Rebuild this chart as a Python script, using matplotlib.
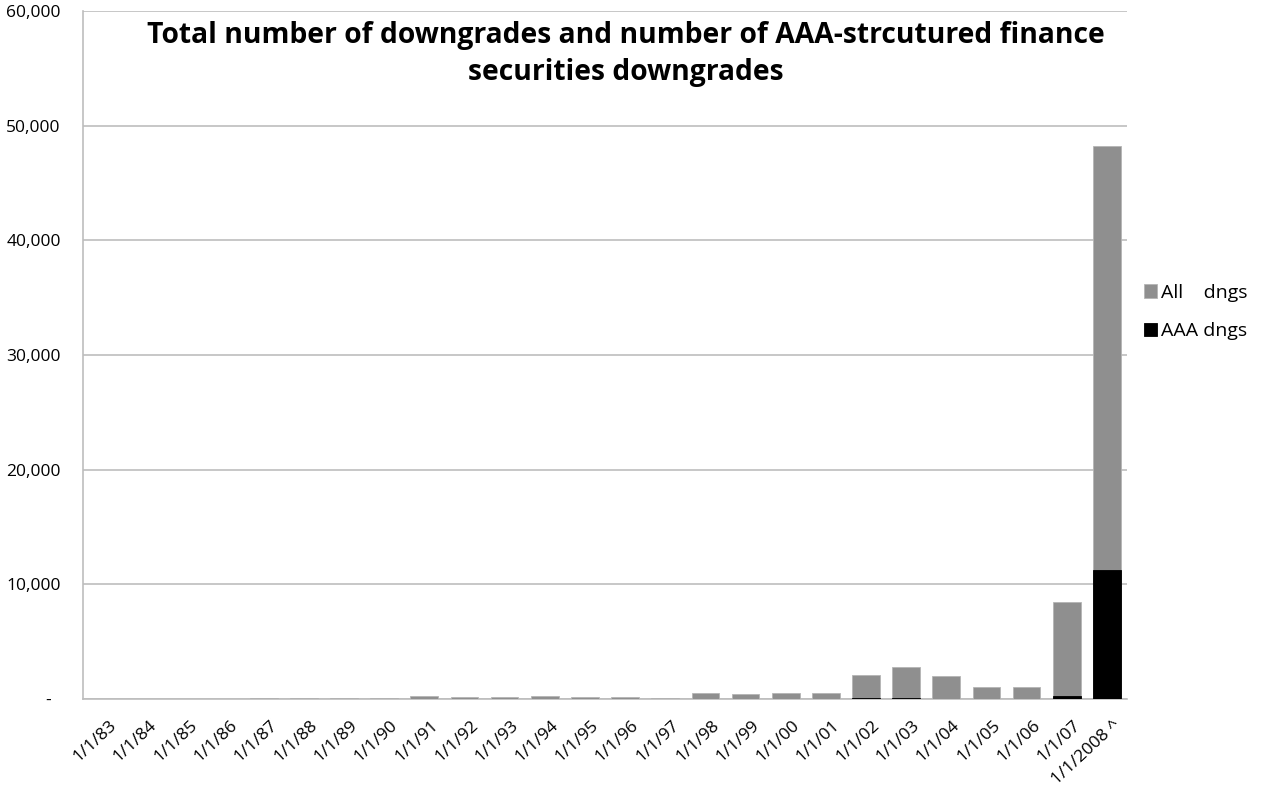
import matplotlib
matplotlib.use("Agg")
import matplotlib.pyplot as plt
from matplotlib.ticker import FuncFormatter, FixedLocator
from matplotlib.transforms import ScaledTranslation
import numpy as np

# Downgrade counts per year
years = ["1/1/83", "1/1/84", "1/1/85", "1/1/86", "1/1/87", "1/1/88", "1/1/89",
         "1/1/90", "1/1/91", "1/1/92", "1/1/93", "1/1/94", "1/1/95", "1/1/96",
         "1/1/97", "1/1/98", "1/1/99", "1/1/00", "1/1/01", "1/1/02", "1/1/03",
         "1/1/04", "1/1/05", "1/1/06", "1/1/07", "1/1/2008 ^"]
all_dngs = [0, 0, 0, 0, 90, 90, 70, 120, 260, 150, 200, 260, 175, 200,
            90, 520, 410, 500, 520, 2090, 2760, 1980, 1020, 1050, 8480, 48200]
aaa_dngs = [0, 0, 0, 0, 0, 0, 0, 0, 0, 0, 0, 0, 0, 0,
            0, 0, 0, 0, 0, 50, 60, 40, 0, 0, 260, 11250]

y_ticks = [0, 10000, 20000, 30000, 40000, 50000, 60000]
title = "Total number of downgrades and number of AAA-strcutured finance\nsecurities downgrades"

plt.rcParams["font.family"] = ["Open Sans", "DejaVu Sans"]

fig = plt.figure(figsize=(12.65, 7.91), dpi=100)
ax = fig.add_axes([83 / 1265, 1 - 699 / 791, (1127 - 83) / 1265, (699 - 11) / 791])

x = np.arange(len(years))
ax.bar(x, all_dngs, width=0.69, color="#8f8f8f", edgecolor="#b5b5b5",
       linewidth=0.6, label="All    dngs", zorder=3)
ax.bar(x, aaa_dngs, width=0.69, color="#000000", edgecolor="#000000",
       linewidth=0.6, label="AAA dngs", zorder=4)

ax.set_xlim(-0.5, len(years) - 0.5)
ax.set_ylim(0, 60000)
ax.yaxis.set_major_locator(FixedLocator(y_ticks))
ax.yaxis.set_major_formatter(FuncFormatter(lambda v, p: "-" if v == 0 else f"{int(v):,}"))
ax.grid(axis="y", color="#bdbdbd", linewidth=1.2, zorder=0)
ax.set_axisbelow(True)

ax.set_xticks(x)
ax.set_xticklabels(years, rotation=43, ha="right", rotation_mode="anchor", fontsize=12.5)
ax.tick_params(axis="x", length=0, pad=13)
ax.tick_params(axis="y", length=0, pad=16, labelsize=12.5)
shift = ScaledTranslation(6 / 100, 0, fig.dpi_scale_trans)
for lbl in ax.get_xticklabels():
    lbl.set_transform(lbl.get_transform() + shift)
# the zero label sits a little left of the numbers, accounting style
zero_shift = ScaledTranslation(-10 / 100, 0, fig.dpi_scale_trans)
ytl = ax.get_yticklabels()
ytl[0].set_transform(ytl[0].get_transform() + zero_shift)

for side in ("top", "right"):
    ax.spines[side].set_visible(False)
for side in ("left", "bottom"):
    ax.spines[side].set_color("#bdbdbd")
    ax.spines[side].set_linewidth(1.2)

fig.text(626 / 1265, 1 - 54 / 791, title, ha="center", va="center",
         fontsize=20.3, fontweight="bold", linespacing=1.32)

handles, labels = ax.get_legend_handles_labels()
fig.legend(handles, labels, loc="center left", bbox_to_anchor=(1126 / 1265, 1 - 312 / 791),
           frameon=False, fontsize=14, handlelength=0.7, handleheight=0.7,
           handletextpad=0.2, labelspacing=1.05)

fig.savefig("out.png", dpi=100)
